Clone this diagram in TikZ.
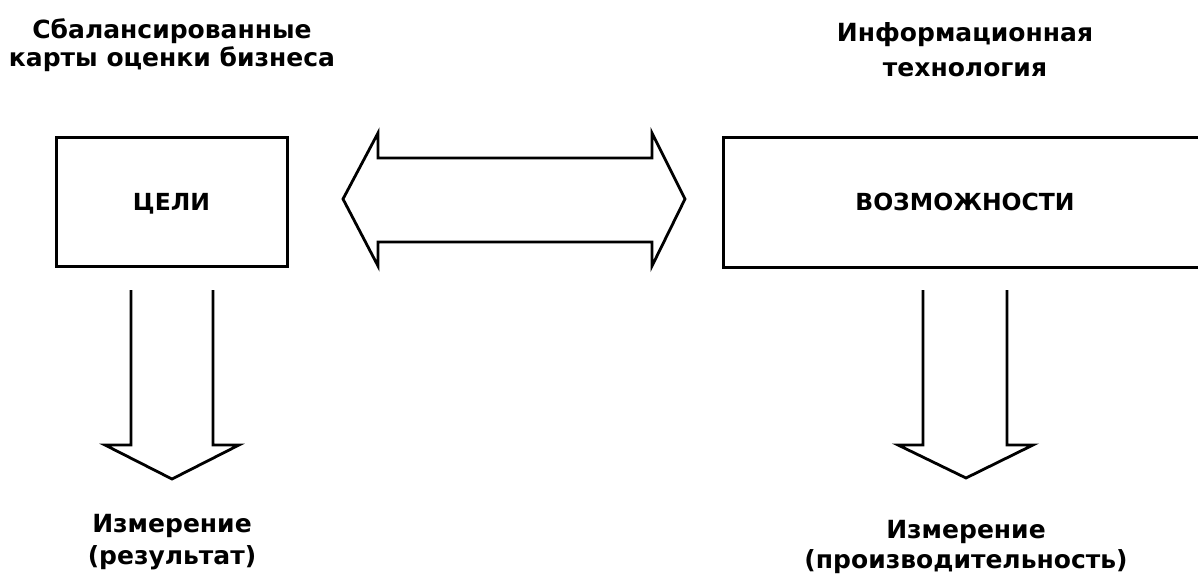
\documentclass[tikz,border=0pt]{standalone}
\usepackage{fontspec}
\setmainfont{DejaVu Sans}
\begin{document}
\begin{tikzpicture}[x=1pt,y=-1pt,
  outline/.style={draw=black,line width=3pt,line join=miter},
  block/.style={outline,rectangle,inner sep=0pt,outer sep=0pt,text depth=0pt,
    font=\bfseries\fontsize{23.5}{26}\selectfont},
  title/.style={align=center,inner sep=0pt,font=\bfseries\fontsize{25}{28}\selectfont},
  caption/.style={align=center,inner sep=0pt,font=\bfseries\fontsize{25}{32}\selectfont},
  hollow/.style={draw=black,line width=2.8pt,line join=miter}]
  \useasboundingbox (0,0) rectangle (1198,575);
  \fill[white] (0,0) rectangle (1198,575);

  % headings
  \node[title] (hbsc) at (172,45) {Сбалансированные\\карты оценки бизнеса};
  \node[title,font=\bfseries\fontsize{25}{35}\selectfont] (hit) at (965,50)
    {Информационная\\технология};

  % the two boxes
  \node[block,minimum width=231pt,minimum height=129pt] (goals) at (171.5,202) {ЦЕЛИ};
  \node[block,minimum width=484pt,minimum height=130pt] (abil) at (965,202) {ВОЗМОЖНОСТИ};

  % double block arrow between the boxes
  \coordinate (dl) at (343,199);
  \coordinate (dr) at (685,199);
  \draw[hollow] (dl) -- (378,133) -- (378,158) -- (652,158) -- (652,133)
    -- (dr) -- (652,266) -- (652,242) -- (378,242) -- (378,266) -- cycle;

  % block arrows pointing down from each box
  \coordinate (lt) at (172,479);
  \draw[hollow] (131,290) -- (131,445) -- (105,445) -- (lt)
    -- (239,445) -- (213,445) -- (213,290);
  \coordinate (rt) at (966,478);
  \draw[hollow] (923,290) -- (923,445) -- (898,445) -- (rt)
    -- (1033,445) -- (1007,445) -- (1007,290);

  % captions below the arrows
  \node[caption] (mres) at (172,542.5) {Измерение\\(результат)};
  \node[caption,font=\bfseries\fontsize{25}{30}\selectfont] (mprod) at (966,546.5)
    {Измерение\\(производительность)};
\end{tikzpicture}
\end{document}
